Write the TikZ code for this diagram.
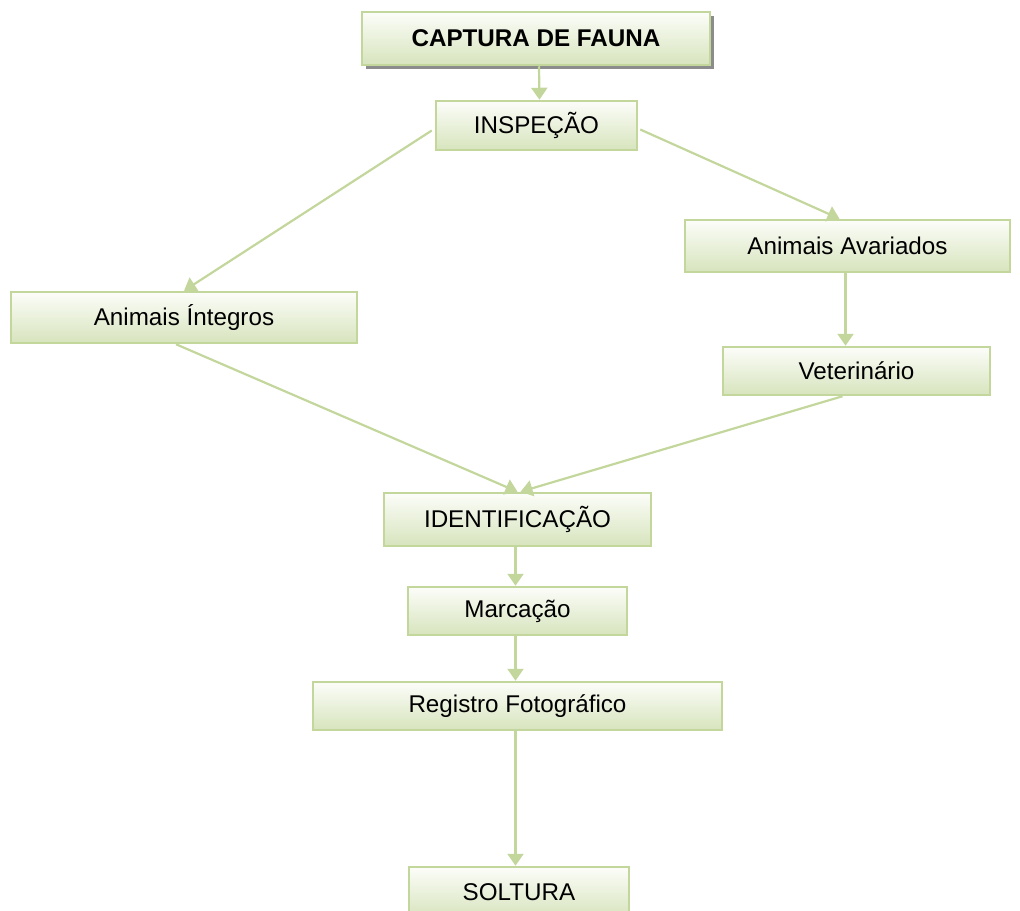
\documentclass[tikz,border=0pt]{standalone}
\usepackage{fontspec}
\setmainfont{Liberation Sans}
\usetikzlibrary{arrows.meta,calc}
\definecolor{boxline}{HTML}{C3D69B}
\definecolor{boxtop}{HTML}{FCFDF9}
\definecolor{boxbot}{HTML}{D7E4BD}
\definecolor{arrowc}{HTML}{C3D69B}
\tikzset{
  stepbox/.style={draw=boxline, line width=2.5bp, top color=boxtop, bottom color=boxbot,
    inner sep=0pt, font=\fontsize{24.3}{29}\selectfont, text=black},
  flow/.style={draw=arrowc, line width=2.2bp, -{Triangle[width=16bp,length=12bp]}},
}
\newcommand{\bx}[6]{% name, x1, y1, x2, y2, text
  \node[stepbox, minimum width={(#4-#2)*1bp}, minimum height={(#5-#3)*1bp}] (#1) at ({(#2+#4)/2},{(#3+#5)/2}) {#6};}
\begin{document}
\begin{tikzpicture}[x=1bp,y=-1bp]
\useasboundingbox (0,0) rectangle (1020,911);
\fill[black!45] (366,16) rectangle (714,69);
\bx{cap}{362}{12}{710}{65}{\textbf{CAPTURA DE FAUNA}}
\bx{insp}{436}{101}{637}{150}{INSPEÇÃO}
\bx{ava}{685}{220}{1010}{272}{Animais Avariados}
\bx{int}{11}{292}{357}{343}{Animais Íntegros}
\bx{vet}{723}{347}{990}{395}{Veterinário}
\bx{ident}{384}{493}{651}{546}{IDENTIFICAÇÃO}
\bx{marc}{408}{587}{627}{635}{Marcação}
\bx{reg}{313}{682}{722}{730}{Registro Fotográfico}
\bx{solt}{409}{867}{629}{918}{SOLTURA}
\coordinate (a1) at ($(ava.south)+(-2,0)$);
\coordinate (r1) at ($(reg.south)+(-2,0)$);
\draw[flow] ($(cap.south)+(3,0)$) -- ($(insp.north)+(3,0)$);
\draw[flow] ($(insp.west)+(-3,5)$) -- (int.north);
\draw[flow] ($(insp.east)+(2,4)$) -- ($(ava.north)+(-8,0)$);
\draw[flow] (a1) -- (a1 |- vet.north);
\draw[flow] ($(int.south)+(-8,0)$) -- (ident.north);
\draw[flow] ($(vet.south)+(-14,0)$) -- ($(ident.north)+(3,0)$);
\draw[flow] ($(ident.south)+(-2,0)$) -- ($(marc.north)+(-2,0)$);
\draw[flow] ($(marc.south)+(-2,0)$) -- ($(reg.north)+(-2,0)$);
\draw[flow] (r1) -- (r1 |- solt.north);
\end{tikzpicture}
\end{document}
